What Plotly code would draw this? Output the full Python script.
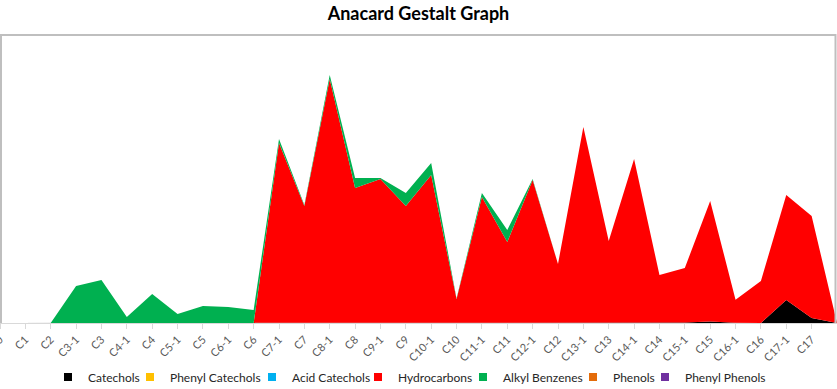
import plotly.graph_objects as go

categories = ["C0", "C1", "C2", "C3-1", "C3", "C4-1", "C4", "C5-1", "C5", "C6-1", "C6",
              "C7-1", "C7", "C8-1", "C8", "C9-1", "C9", "C10-1", "C10", "C11-1", "C11",
              "C12-1", "C12", "C13-1", "C13", "C14-1", "C14", "C15-1", "C15", "C16-1", "C16",
              "C17-1", "C17", "C18-1"]
# the last category's label is not shown in the original (cut off)
tick_labels = categories[:-1]

catechols = [0, 0, 0, 0, 0, 0, 0, 0, 0, 0, 0,
             0, 0, 0, 0, 0, 0, 0, 0, 0, 0,
             0, 0, 0, 0, 0, 0, 0.5, 1.5, 0.3, 0,
             23, 5, 0]
phenyl_catechols = [0] * 34
acid_catechols = [0] * 34
hydrocarbons = [0, 0, 0, 0, 0, 0, 0, 0, 0, 0, 0,
                180, 117, 244, 135, 144, 117, 148, 24, 126, 81,
                143, 59, 196, 82, 164, 48, 54.5, 120.5, 23, 42,
                105, 102, 0]
alkyl_benzenes = [0, 0, 0, 37, 43, 6, 29, 9, 17, 16, 13,
                  4, 1, 4, 10, 1, 13, 12, 0.5, 4, 12,
                  1, 0, 0, 0, 0, 0, 0, 0, 0, 0,
                  0, 0, 0]
phenols = [0] * 34
phenyl_phenols = [0] * 34

series_names = ["Catechols", "Phenyl Catechols", "Acid Catechols", "Hydrocarbons",
                "Alkyl Benzenes", "Phenols", "Phenyl Phenols"]
series_values = [catechols, phenyl_catechols, acid_catechols, hydrocarbons,
                 alkyl_benzenes, phenols, phenyl_phenols]
series_colors = ["#000000", "#FFC000", "#00B0F0", "#FF0000", "#00B050", "#E46C0A", "#7030A0"]
legend_widths = [37, 77, 61, 60, 65, 27, 81]

FONT = "Lato, 'Open Sans', sans-serif"

fig = go.Figure()
for name, vals, col in zip(series_names, series_values, series_colors):
    fig.add_trace(go.Scatter(
        x=categories, y=vals, name=name, mode="lines",
        stackgroup="one", line=dict(width=0, color=col),
        fillcolor=col, showlegend=False, hoverinfo="x+y+name"))

# legend entries with square swatches (Excel style)
for name, col, lw in zip(series_names, series_colors, legend_widths):
    fig.add_trace(go.Scatter(
        x=[None], y=[None], name=name, mode="markers",
        marker=dict(symbol="square", size=8, color=col),
        legendwidth=lw, showlegend=True))

W = 837.0
fig.update_layout(
    width=837, height=389,
    margin=dict(l=0, r=0, t=35, b=66, autoexpand=False),
    paper_bgcolor="white", plot_bgcolor="white",
    font=dict(family=FONT, size=12, color="#404040"),
    title=dict(text="<b>Anacard Gestalt Graph</b>", x=0.5, xanchor="center",
               y=1 - 14 / 389, yanchor="middle", yref="container",
               font=dict(family=FONT, size=18, color="#000000")),
    showlegend=True,
    legend=dict(orientation="h", x=48 / 837, xanchor="left",
                y=(323 - 377) / 288, yanchor="middle", traceorder="normal",
                font=dict(family=FONT, size=12, color="#262626"),
                bgcolor="rgba(0,0,0,0)", borderwidth=0),
    xaxis=dict(type="category", categoryorder="array", categoryarray=categories,
               range=[0, len(categories) - 1], automargin=False,
               tickmode="array", tickvals=tick_labels, ticktext=tick_labels,
               showgrid=False, zeroline=False,
               showline=True, linecolor="#D9D9D9", linewidth=1,
               ticks="outside", ticklen=5, tickcolor="#D9D9D9",
               tickangle=-45, tickfont=dict(family=FONT, size=11, color="#595959")),
    yaxis=dict(range=[0, 288], showgrid=False, zeroline=False, showticklabels=False,
               automargin=False, ticks="", showline=False),
    shapes=[dict(type="path", xref="paper", yref="paper",
                 path=f"M {1/W},0 L {1/W},1 L {835.5/W},1 L {835.5/W},0",
                 line=dict(color="#BFBFBF", width=2), layer="above")],
)

fig.write_html("out.html", config={"displayModeBar": False},
               post_script="document.body.style.margin='0';document.body.style.overflow='hidden';")
